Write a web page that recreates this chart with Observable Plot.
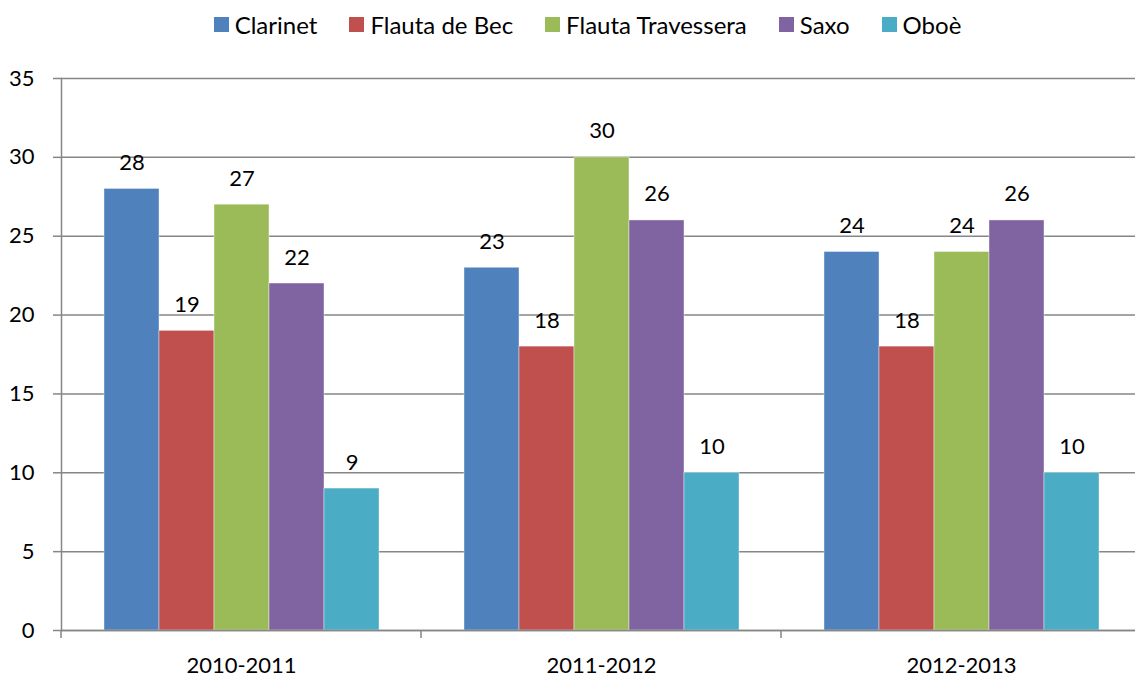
<!DOCTYPE html>
<html>
<head>
<meta charset="utf-8">
<script src="https://cdn.jsdelivr.net/npm/d3@7"></script>
<script src="https://cdn.jsdelivr.net/npm/@observablehq/plot@0.6"></script>
<style>
  html, body { margin: 0; padding: 0; background: #fff; }
  body { width: 1135px; height: 677px; overflow: hidden; font-family: Lato, "Open Sans", sans-serif; }
  #legend { height: 48px; display: flex; justify-content: center; align-items: center; padding-left: 40px; box-sizing: border-box; font-size: 24px; color: #000; }
  .item { display: flex; align-items: center; margin: 0 16px; }
  .sw { width: 15px; height: 15px; margin-right: 6px; }
</style>
</head>
<body>
<div id="legend"></div>
<div id="chart"></div>
<script>
const years = ["2010-2011", "2011-2012", "2012-2013"];
const instruments = ["Clarinet", "Flauta de Bec", "Flauta Travessera", "Saxo", "Oboè"];
const colors = ["#4F81BD", "#C0504D", "#9BBB59", "#8064A2", "#4BACC6"];
const clarinet = [28, 23, 24];
const flautaBec = [19, 18, 18];
const flautaTravessera = [27, 30, 24];
const saxo = [22, 26, 26];
const oboe = [9, 10, 10];
const yTicks = [0, 5, 10, 15, 20, 25, 30, 35];

const series = [clarinet, flautaBec, flautaTravessera, saxo, oboe];
const data = [];
years.forEach((yr, i) => instruments.forEach((ins, j) => data.push({year: yr, instrument: ins, value: series[j][i]})));

const legend = document.getElementById("legend");
instruments.forEach((ins, j) => {
  const it = document.createElement("div");
  it.className = "item";
  const sw = document.createElement("div");
  sw.className = "sw";
  sw.style.background = colors[j];
  const t = document.createElement("span");
  t.textContent = ins;
  it.appendChild(sw); it.appendChild(t);
  legend.appendChild(it);
});

const grey = "#868686";

const boundaryTicks = (index, scales, values, dimensions) => {
  const g = d3.create("svg:g");
  const y0 = scales.y(0);
  g.append("line")
    .attr("x1", dimensions.marginLeft).attr("x2", dimensions.marginLeft)
    .attr("y1", y0).attr("y2", y0 + 8)
    .attr("stroke", grey).attr("stroke-width", 1.5);
  return g.node();
};

const chart = Plot.plot({
  width: 1135,
  height: 629,
  marginLeft: 61,
  marginRight: -6,
  marginTop: 30,
  marginBottom: 47,
  style: {fontFamily: "Lato, 'Open Sans', sans-serif", fontSize: "22px", color: "#000", background: "#fff"},
  fx: {domain: years, padding: 0, label: null, axis: null},
  x: {domain: instruments, paddingInner: 0, paddingOuter: 0.745, axis: null},
  y: {domain: [0, 35], label: null, axis: null},
  color: {domain: instruments, range: colors},
  marks: [
    Plot.gridY(yTicks, {stroke: grey, strokeOpacity: 1, strokeWidth: 1.5}),
    Plot.axisY(yTicks, {tickSize: 8, stroke: grey, strokeWidth: 1.5, text: null, label: null}),
    Plot.axisY(yTicks, {tickSize: 0, tickPadding: 27, fontSize: 22, fill: "#000", label: null}),
    Plot.axisFx({anchor: "bottom", tickSize: 0, tickPadding: 27, fontSize: 22, fill: "#000", label: null}),
    Plot.barY(data, {fx: "year", x: "instrument", y: "value", fill: "instrument", stroke: "#fff", strokeOpacity: 0.5, strokeWidth: 0.8}),
    Plot.text(data, {fx: "year", x: "instrument", y: "value", text: d => String(d.value), lineAnchor: "bottom", dy: -19, fontSize: 22, fill: "#000"}),
    Plot.frame({anchor: "left", stroke: grey, strokeWidth: 1.5, facetAnchor: "left"}),
    Plot.ruleY([0], {stroke: grey, strokeWidth: 1.5}),
    boundaryTicks
  ]
});
document.getElementById("chart").appendChild(chart);
</script>
</body>
</html>
